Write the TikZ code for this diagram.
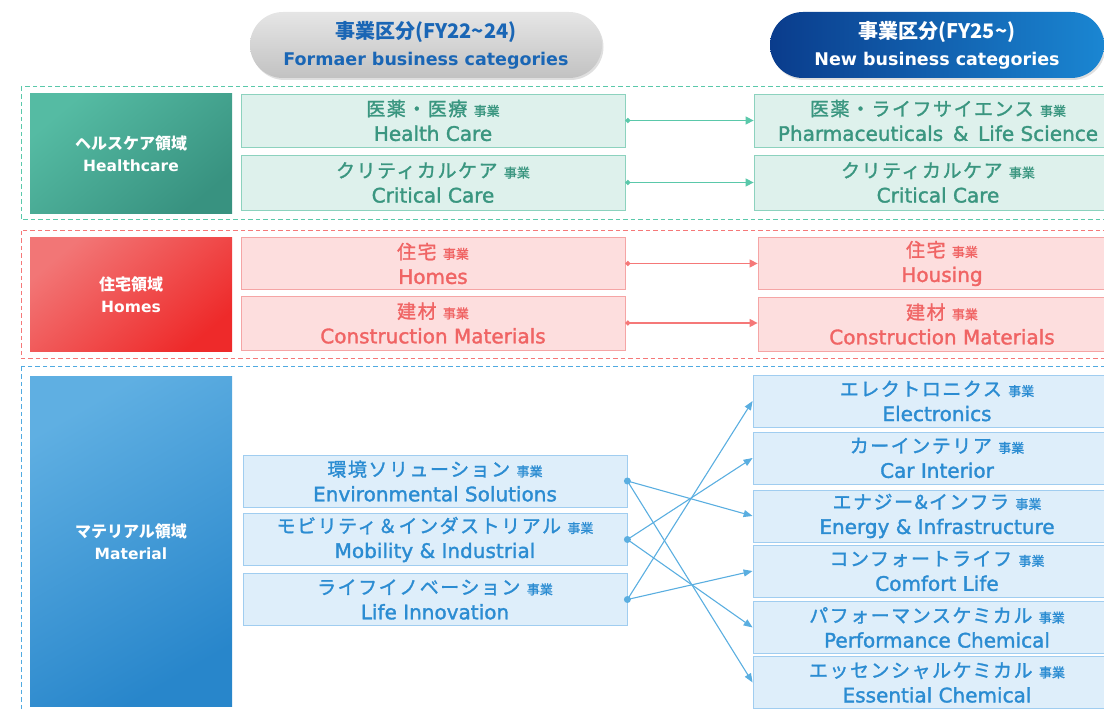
\documentclass[tikz,border=0pt]{standalone}
\usepackage{fontspec}
\setmainfont{DejaVu Sans}
\newfontfamily\medfont{DejaVu Sans}[FakeBold=1.6]
\newfontfamily\jpfont{Noto Sans CJK JP}
\newfontfamily\jpwide{Noto Sans CJK JP}[LetterSpace=8, FakeBold=1.4]
\newfontfamily\jpmed{Noto Sans CJK JP}[FakeBold=1.2]
\usetikzlibrary{arrows.meta,shadows}

\definecolor{hcdashc}{HTML}{5AC8AA}
\definecolor{hcfill}{HTML}{DEF1EC}
\definecolor{hcborder}{HTML}{8CD2BE}
\definecolor{hctext}{HTML}{3A9680}
\definecolor{hclabA}{HTML}{55BBA3}
\definecolor{hclabB}{HTML}{389280}
\definecolor{hmdashc}{HTML}{F57878}
\definecolor{hmfill}{HTML}{FDDEDE}
\definecolor{hmborder}{HTML}{F5A5A5}
\definecolor{hmtext}{HTML}{F06464}
\definecolor{hmlabA}{HTML}{F27676}
\definecolor{hmlabB}{HTML}{EE2A2A}
\definecolor{mtdashc}{HTML}{50AAE1}
\definecolor{mtfill}{HTML}{DEEEFA}
\definecolor{mtborder}{HTML}{A0CDF0}
\definecolor{mttext}{HTML}{2B8CD2}
\definecolor{mtlabA}{HTML}{5FAFE2}
\definecolor{mtlabB}{HTML}{2886CB}
\definecolor{mtarrow}{HTML}{5AAEE0}
\definecolor{oldtext}{HTML}{1A66B5}
\definecolor{newA}{HTML}{0A3C8C}
\definecolor{newB}{HTML}{1A86D2}

\newcommand{\jigyo}{{\jpmed\fontsize{13}{13}\selectfont 事業}}
\newcommand{\bizname}[2]{{\jpwide\fontsize{19}{19}\selectfont #1} \jigyo\\#2}
\newcommand{\areaname}[2]{{\jpfont\bfseries\fontsize{16}{22}\selectfont #1}\\#2}

\tikzset{
    biz/.style={inner sep=0pt, align=center, line width=0.8pt, minimum height=53pt,
        font=\medfont\fontsize{20}{25}\selectfont},
    oldbiz/.style={biz, minimum width=384pt},
    newbiz/.style={biz, minimum width=368pt},
    hcbiz/.style={draw=hcborder, fill=hcfill, text=hctext},
    hmbiz/.style={draw=hmborder, fill=hmfill, text=hmtext, minimum height=52pt},
    mtbiz/.style={draw=mtborder, fill=mtfill, text=mttext, minimum height=52pt},
    area/.style={inner sep=0pt, align=center, minimum width=202pt, text=white,
        font=\bfseries\fontsize{15.5}{22}\selectfont},
    head/.style={inner sep=0pt, align=center, minimum height=66pt, rounded corners=33pt,
        font=\bfseries\fontsize{17.5}{27}\selectfont,
        drop shadow={opacity=0.25, shadow xshift=1.5pt, shadow yshift=-2pt}},
    zone/.style={line width=1pt, dash pattern=on 4.5pt off 3pt},
    hcarrow/.style={draw=hcdashc, line width=1.4pt, {Circle[length=5pt]}-{Triangle[length=8pt,width=8pt]}},
    hmarrow/.style={draw=hmdashc, line width=1.4pt, {Circle[length=5pt]}-{Triangle[length=8pt,width=8pt]}},
    mtlink/.style={draw=mtarrow, line width=1.1pt, -{Triangle[length=9pt,width=7pt]}}
}

\begin{document}
\begin{tikzpicture}[x=1pt,y=-1pt]
    \clip (0,0) rectangle (1104,711);

    \draw[zone, draw=hcdashc] (21,87) rectangle (1115,220);
    \draw[zone, draw=hmdashc] (21,231) rectangle (1115,359);
    \draw[zone, draw=mtdashc] (21,367) rectangle (1115,730);

    \node[head, text=oldtext, minimum width=352pt, top color=black!10, bottom color=black!24] at (426,45) (oldhead)
        {{\jpfont\fontsize{20}{27}\selectfont 事業区分(FY22\textasciitilde24)}\\Formaer business categories};
    \node[head, text=white, minimum width=334pt, left color=newA, right color=newB] at (937,45) (newhead)
        {{\jpfont\fontsize{20}{27}\selectfont 事業区分(FY25\textasciitilde)}\\New business categories};

    \node[area, minimum height=120pt, top color=hclabA, bottom color=hclabB, shading angle=40] at (131,154) (hcarea)
        {\areaname{ヘルスケア領域}{Healthcare}};
    \node[area, minimum height=114pt, top color=hmlabA, bottom color=hmlabB, shading angle=40] at (131,295) (hmarea)
        {\areaname{住宅領域}{Homes}};
    \node[area, minimum height=329pt, top color=mtlabA, bottom color=mtlabB, shading angle=30] at (131,541.5) (mtarea)
        {\areaname{マテリアル領域}{Material}};

    \node[oldbiz, hcbiz] at (433,120.5) (hcold1) {\bizname{医薬・医療}{Health Care}};
    \node[oldbiz, hcbiz, minimum height=55pt] at (433,182.5) (hcold2) {\bizname{クリティカルケア}{Critical Care}};
    \node[newbiz, hcbiz] at (938,120.5) (hcnew1) {\bizname{医薬・ライフサイエンス}{Pharmaceuticals \,\&\, Life Science}};
    \node[newbiz, hcbiz, minimum height=55pt] at (938,182.5) (hcnew2) {\bizname{クリティカルケア}{Critical Care}};

    \node[oldbiz, hmbiz] at (433,263.5) (hmold1) {\bizname{住宅}{Homes}};
    \node[oldbiz, hmbiz, minimum height=54pt] at (433,323) (hmold2) {\bizname{建材}{Construction Materials}};
    \node[newbiz, hmbiz] at (942,263.5) (hmnew1) {\bizname{住宅}{Housing}};
    \node[newbiz, hmbiz, minimum height=54pt] at (942,324) (hmnew2) {\bizname{建材}{Construction Materials}};

    \node[oldbiz, mtbiz] at (435,481) (env) {\bizname{環境ソリューション}{Environmental Solutions}};
    \node[oldbiz, mtbiz] at (435,539.5) (mob) {\bizname{モビリティ＆インダストリアル}{Mobility \& Industrial}};
    \node[oldbiz, mtbiz] at (435,599.5) (life) {\bizname{ライフイノベーション}{Life Innovation}};

    \node[newbiz, mtbiz] at (937,401) (elec) {\bizname{エレクトロニクス}{Electronics}};
    \node[newbiz, mtbiz] at (937,458) (car) {\bizname{カーインテリア}{Car Interior}};
    \node[newbiz, mtbiz] at (937,516) (energy) {\bizname{エナジー\&インフラ}{Energy \& Infrastructure}};
    \node[newbiz, mtbiz] at (937,571) (comfort) {\bizname{コンフォートライフ}{Comfort Life}};
    \node[newbiz, mtbiz] at (937,627.5) (perf) {\bizname{パフォーマンスケミカル}{Performance Chemical}};
    \node[newbiz, mtbiz] at (937,682.5) (ess) {\bizname{エッセンシャルケミカル}{Essential Chemical}};

    \draw[hcarrow] (hcold1) -- (hcnew1);
    \draw[hcarrow] (hcold2) -- (hcnew2);
    \draw[hmarrow] (hmold1.east) -- (hmnew1.west |- hmold1.east);
    \draw[hmarrow] (hmold2.east) -- (hmnew2.west |- hmold2.east);

    \draw[mtlink] (env.east) -- (energy.west);
    \draw[mtlink] (env.east) -- (ess.west);
    \draw[mtlink] (mob.east) -- (car.west);
    \draw[mtlink] (mob.east) -- (perf.west);
    \draw[mtlink] (life.east) -- (elec.west);
    \draw[mtlink] (life.east) -- (comfort.west);
    \fill[mtarrow] (env.east) circle (3.5);
    \fill[mtarrow] (mob.east) circle (3.5);
    \fill[mtarrow] (life.east) circle (3.5);
\end{tikzpicture}
\end{document}
